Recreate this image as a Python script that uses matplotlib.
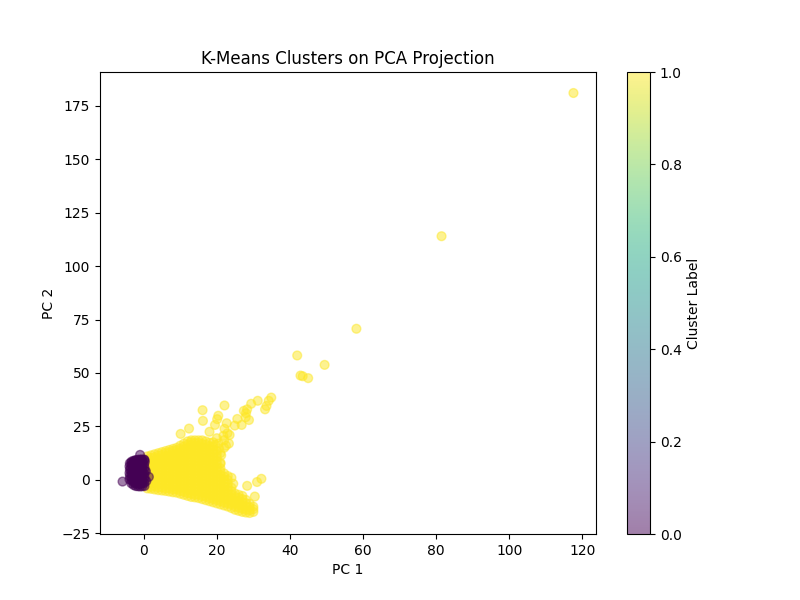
import numpy as np
import matplotlib
matplotlib.use('Agg')
import matplotlib.pyplot as plt

# points, dense part goes column by column along PC 1
column_pc1 = [1, 2, 3, 4, 5, 6, 7, 8, 9, 10, 11, 12, 13, 14, 15,
              16, 17, 18, 19, 20, 21, 22, 23, 24, 25, 26, 27, 28, 29, 30]
column_pc2 = [
    [-4.0, -2.6, -1.0, 0.4, 2.0, 3.4, 5.0, 6.5, 8.0, 9.6, 11.0],
    [-4.2, -3.3, -1.7, -0.3, 1.3, 2.8, 4.2, 5.8, 7.3, 8.7, 10.3, 11.5],
    [-4.5, -2.9, -1.4, 0.2, 1.7, 3.1, 4.7, 6.2, 7.7, 9.2, 10.6, 12.0],
    [-4.8, -3.6, -2.1, -0.5, 0.9, 2.5, 3.9, 5.5, 7.0, 8.4, 10.0, 11.4, 12.5],
    [-5.0, -3.4, -1.8, -0.4, 1.2, 2.7, 4.3, 5.7, 7.3, 8.8, 10.3, 11.7, 13.0],
    [-5.2, -4.1, -2.5, -1.0, 0.5, 2.0, 3.6, 5.0, 6.6, 8.1, 9.5, 11.1, 12.5, 13.5],
    [-5.5, -3.9, -2.3, -0.8, 0.8, 2.2, 3.8, 5.3, 6.8, 8.4, 9.8, 11.3, 12.8, 14.0],
    [-5.8, -4.5, -3.0, -1.5, 0.1, 1.5, 3.1, 4.6, 6.1, 7.6, 9.1, 10.6, 12.1, 13.5, 14.5],
    [-6.0, -4.4, -2.8, -1.3, 0.3, 1.8, 3.3, 4.9, 6.4, 7.8, 9.4, 10.9, 12.3, 13.9, 15.0],
    [-6.5, -5.2, -3.6, -2.1, -0.6, 1.0, 2.5, 4.0, 5.5, 7.1, 8.6, 10.1, 11.5, 13.1, 14.6, 16.0],
    [-7.0, -5.6, -4.0, -2.5, -1.0, 0.6, 2.0, 3.6, 5.1, 6.6, 8.2, 9.6, 11.1, 12.7, 14.2, 15.6, 17.0],
    [-7.5, -6.2, -4.7, -3.2, -1.6, -0.1, 1.4, 2.9, 4.4, 5.9, 7.5, 9.0, 10.4, 12.0, 13.5, 15.0, 16.5, 18.0],
    [-8.0, -6.5, -5.0, -3.4, -1.9, -0.4, 1.1, 2.7, 4.2, 5.7, 7.2, 8.7, 10.3, 11.8, 13.3, 14.8, 16.3, 17.6, 18.5],
    [-8.2, -7.0, -5.5, -4.0, -2.4, -0.9, 0.6, 2.1, 3.7, 5.2, 6.7, 8.2, 9.7, 11.2, 12.8, 14.3, 15.8, 17.2, 18.5],
    [-8.5, -6.9, -5.4, -3.8, -2.3, -0.8, 0.8, 2.3, 3.8, 5.3, 6.8, 8.4, 9.9, 11.4, 12.9, 14.4, 16.0, 17.4, 18.5],
    [-9.0, -7.6, -6.0, -4.5, -3.0, -1.5, 0.1, 1.6, 3.1, 4.6, 6.2, 7.7, 9.2, 10.7, 12.2, 13.8, 15.3, 16.8, 18.5],
    [-9.5, -7.9, -6.4, -4.9, -3.3, -1.8, -0.3, 1.2, 2.8, 4.3, 5.8, 7.3, 8.9, 10.4, 11.9, 13.4, 14.9, 16.5, 18.0],
    [-10.0, -8.6, -7.0, -5.5, -4.0, -2.4, -0.9, 0.6, 2.1, 3.7, 5.2, 6.7, 8.2, 9.8, 11.3, 12.8, 14.3, 15.8, 17.4],
    [-10.5, -9.0, -7.4, -5.9, -4.4, -2.8, -1.3, 0.2, 1.8, 3.3, 4.8, 6.3, 7.9, 9.4, 10.9, 12.5, 14.0, 15.5, 17.6],
    [-11.0, -9.5, -8.0, -6.5, -4.9, -3.4, -1.9, -0.3, 1.2, 2.7, 4.2, 5.8, 7.3, 8.8, 10.4, 12.0],
    [-11.5, -10.0, -8.4, -6.9, -5.4, -3.8, -2.3, -0.8, 0.8, 2.3, 3.9, 5.4, 7.5],
    [-12.0, -10.6, -9.0, -7.5, -6.0, -4.4, -2.9, -1.4, 0.2, 1.5, 3.0],
    [-12.5, -11.0, -9.4, -7.9, -6.4, -4.8, -3.3, -1.8, 0.0],
    [-13.2, -11.5, -10.0, -8.4, -6.9, -5.3, -3.6],
    [-14.0, -12.5, -11.0, -9.5, -7.9, -6.4],
    [-14.5, -13.0, -11.5, -10.0, -8.4, -7.0],
    [-15.0, -13.5, -12.0, -10.5, -9.0, -7.5],
    [-15.3, -14.0, -12.4, -10.9, -9.4],
    [-15.5, -14.2, -12.8, -11.2],
    [-15.0, -13.7, -12.5],
]

# purple block left of zero
purple_pc1 = [-3.9, -3.8, -3.9, -3.8, -3.9, -3.8,
              -3.4, -3.3, -3.4, -3.3, -3.4, -3.5, -3.3, -3.4, -3.3,
              -2.8, -2.9, -2.7, -2.8, -2.9, -2.7, -2.8, -2.9, -2.7, -2.8,
              -2.2, -2.3, -2.1, -2.2, -2.3, -2.1, -2.2, -2.3, -2.1, -2.2, -2.3,
              -1.6, -1.7, -1.5, -1.6, -1.7, -1.5, -1.6, -1.7, -1.5, -1.6, -1.7,
              -1.0, -1.1, -0.9, -1.0, -1.1, -0.9, -1.0, -1.1, -0.9, -1.0, -1.1,
              -0.4, -0.5, -0.3, -0.4, -0.5, -0.3, -0.4, -0.5, -0.3, -0.4, -0.5,
              0.2, 0.1, 0.3, 0.2, 0.1, 0.3, 0.2, 0.1, 0.3, 0.2, 0.1,
              0.7, 0.6,
              -5.8, -1.0, 1.4]
purple_pc2 = [0.2, 1.8, 3.2, 4.8, 6.3, 7.8,
              -1.6, -0.2, 1.1, 2.5, 4.0, 5.4, 6.9, 8.0, 8.6,
              -2.4, -1.0, 0.4, 1.9, 3.3, 4.7, 6.2, 7.6, 8.4, 8.9,
              -2.9, -1.6, -0.2, 1.2, 2.7, 4.1, 5.5, 7.0, 8.2, 9.0, 9.2,
              -3.0, -1.8, -0.3, 1.1, 2.5, 4.0, 5.4, 6.9, 8.2, 9.0, 9.4,
              -3.1, -1.9, -0.4, 1.0, 2.4, 3.9, 5.3, 6.8, 8.1, 9.1, 9.5,
              -3.0, -1.7, -0.3, 1.1, 2.6, 4.0, 5.4, 6.9, 8.3, 9.2, 9.6,
              -2.9, -1.5, 0.0, 1.4, 2.8, 4.3, 5.7, 7.1, 8.4, 9.3, 9.5,
              -0.6, 4.0,
              -0.8, 11.7, 1.4]

# loose yellow points around the cloud and along the arm
arm_pc1 = [117.6, 81.5, 58.2, 42.0, 49.5, 42.9, 43.5, 45.0, 34.9, 34.2, 33.6, 33.2,
           31.2, 29.4, 27.4, 28.3, 28.0, 28.8, 27.9, 22.1, 16.1, 16.2, 20.4, 20.1,
           22.7, 25.6, 24.9, 26.8, 19.5, 22.1, 18.0, 12.4, 10.1, 22.9, 23.5, 21.8,
           32.2, 31.0, 28.3, 30.4, 21.0, 23.3, 22.0, 21.0, 20.5, 20.0, 24.0,
           22.0, 22.5, 21.2, 20.6, 20.0, 19.6, 23.0, 24.5]
arm_pc2 = [181.0, 114.0, 70.7, 58.2, 53.8, 48.8, 48.5, 47.6, 38.5, 37.0, 34.6, 33.0,
           37.0, 35.6, 32.3, 33.0, 31.2, 28.0, 29.3, 34.8, 32.6, 27.6, 30.0, 28.4,
           26.5, 28.5, 25.4, 25.7, 25.7, 23.9, 22.5, 24.0, 21.5, 21.8, 21.0, 20.6,
           0.5, -1.0, -2.8, -7.8, 8.0, 17.0, 15.0, 12.5, 17.0, 19.5, 1.0,
           18.6, 16.0, 11.5, 14.8, 13.6, 16.5, 1.8, -1.8]

yellow_pc1 = np.repeat(column_pc1, [len(c) for c in column_pc2])
yellow_pc2 = np.concatenate(column_pc2)

pc1 = np.concatenate([yellow_pc1, purple_pc1, arm_pc1])
pc2 = np.concatenate([yellow_pc2, purple_pc2, arm_pc2])
labels = np.concatenate([np.ones(len(yellow_pc1)), np.zeros(len(purple_pc1)), np.ones(len(arm_pc1))])

plt.figure(figsize=(8, 6))
plt.scatter(pc1, pc2, c=labels, cmap='viridis', alpha=0.5, s=40)
plt.title('K-Means Clusters on PCA Projection')
plt.xlabel('PC 1')
plt.ylabel('PC 2')
plt.colorbar(label='Cluster Label')
plt.savefig('out.png', dpi=100)
